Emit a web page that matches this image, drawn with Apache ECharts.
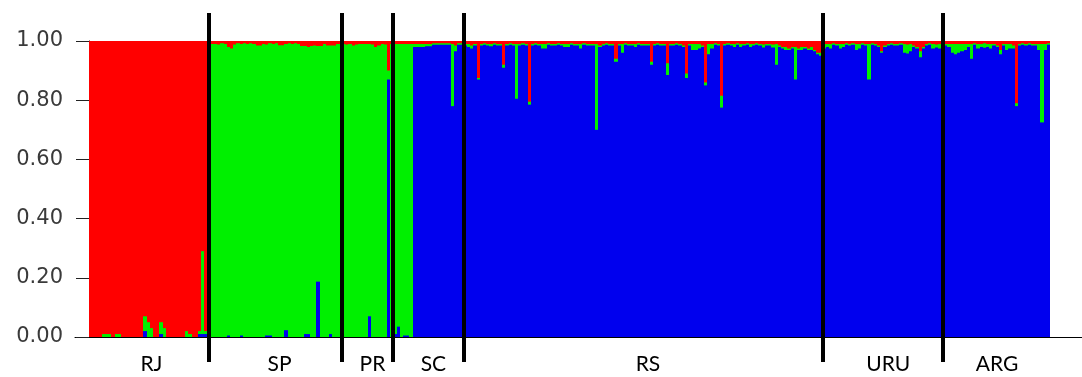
<!DOCTYPE html>
<html>
<head>
<meta charset="utf-8">
<script src="https://cdn.jsdelivr.net/npm/echarts@6/dist/echarts.min.js"></script>
<style>
html, body { margin: 0; padding: 0; background: #fff; }
#structure { width: 1082px; height: 377px; }
</style>
</head>
<body>
<div id="structure"></div>
<script>
// populations, left to right
var popNames = ['RJ', 'SP', 'PR', 'SC', 'RS', 'URU', 'ARG'];
var popSizes = [38, 41, 16, 22, 112, 38, 33];
// individual that carries each population tick/label
var popTickIndex = [19, 59, 88, 107, 174, 249, 283];
// hand drawn separator lines, in individuals from the left edge
var separators = [37.5, 79, 94.9, 117.1, 229.2, 266.6];

// membership in cluster 1 (red) and cluster 2 (green), one value per individual
var rjRed = [1, 1, 1, 1, .99, .99, .99, 1, .99, .99, 1, 1, 1, 1, 1, 1, 1, .93, .95, .97,
  1, 1, .95, .97, 1, 1, 1, 1, 1, 1, .98, .99, 1, 1, .98, .71, .98, 1];
var rjGreen = [0, 0, 0, 0, .01, .01, .01, 0, .01, .01, 0, 0, 0, 0, 0, 0, 0, .05, .05, .03,
  0, 0, .04, .03, 0, 0, 0, 0, 0, 0, .02, .01, 0, 0, .01, .28, .01, 0];

var spRed = [.01, .01, .012, .008, .01, .02, .025, .012, .008, .01, .008, .01, .008, .01, .015, .015, .01, .012, .008, .01,
  .008, .014, .014, .01, .008, .01, .008, .01, .017, .017, .02, .017, .015, .017, .017, .01, .015, .015, .015, .01, .01];
var spGreen = [.99, .99, .988, .992, .99, .975, .975, .988, .992, .985, .992, .99, .992, .99, .985, .985, .99, .983, .987, .99,
  .992, .986, .986, .967, .992, .99, .992, .99, .983, .973, .97, .983, .985, .796, .983, .99, .985, .975, .985, .99, .99];

var prRed = [.01, .012, .01, .015, .012, .01, .01, .01, .01, .012, .02, .015, .01, .012, .1, .01];
var prGreen = [.99, .988, .99, .985, .988, .99, .99, .99, .92, .988, .98, .985, .99, .988, .03, .99];

var scRed = [.01, .01, .01, .01, .01, .01, .01, .01, .01, .01, .01, .01, .008, .008, .008, .008, .008, .008, .01, .015, .008, .008];
var scGreen = [.98, .955, .99, .985, .985, .99, .01, .01, .01, .01, .008, .008, .005, .005, .005, .005, .005, .005, .21, .02, .005, .005];

var rsRed = [.01, .01, .015, .01, .125, .01, .008, .01, .01, .008,
  .01, .01, .08, .01, .008, .01, .01, .01, .008, .01,
  .205, .01, .008, .01, .01, .01, .008, .01, .01, .008,
  .01, .01, .01, .008, .01, .01, .01, .008, .01, .01,
  .01, .01, .015, .01, .008, .01, .01, .06, .01, .01,
  .008, .01, .01, .01, .008, .01, .01, .01, .07, .01,
  .008, .01, .01, .075, .01, .01, .008, .01, .015, .11,
  .01, .01, .01, .01, .015, .14, .01, .01, .008, .01,
  .185, .01, .008, .01, .01, .008, .01, .01, .008, .01,
  .01, .008, .01, .012, .01, .01, .012, .01, .015, .02,
  .02, .025, .02, .02, .025, .02, .02, .025, .02, .03,
  .04, .04];
var rsGreen = [.005, .01, .01, .005, .005, .005, .005, .005, .008, .005,
  .005, .005, .01, .005, .005, .005, .185, .005, .005, .005,
  .01, .005, .005, .005, .015, .015, .005, .005, .005, .005,
  .005, .01, .01, .005, .005, .005, .015, .005, .005, .005,
  .005, .29, .005, .005, .005, .005, .005, .01, .005, .03,
  .005, .005, .005, .01, .005, .005, .005, .005, .01, .005,
  .005, .005, .005, .04, .005, .005, .005, .005, .005, .015,
  .005, .02, .02, .015, .005, .01, .035, .015, .005, .005,
  .04, .005, .005, .005, .01, .005, .01, .005, .005, .01,
  .005, .005, .005, .01, .005, .005, .01, .07, .005, .005,
  .01, .005, .005, .11, .005, .01, .005, .005, .01, .005,
  .005, .01];

var uruRed = [.01, .01, .01, .008, .01, .01, .01, .008, .01, .008,
  .01, .01, .008, .01, .01, .008, .01, .015, .035, .015,
  .01, .008, .01, .01, .008, .01, .012, .01, .015, .02,
  .035, .02, .01, .008, .01, .012, .01, .01];
var uruGreen = [.015, .01, .015, .005, .005, .015, .01, .005, .005, .005,
  .02, .015, .005, .005, .12, .005, .005, .005, .005, .005,
  .005, .005, .005, .005, .005, .03, .03, .025, .005, .005,
  .02, .005, .005, .005, .015, .01, .015, .005];

var argRed = [.01, .01, .01, .01, .01, .01, .01, .01, .01, .008,
  .01, .01, .008, .01, .01, .01, .015, .03, .01, .01,
  .01, .015, .21, .01, .008, .01, .008, .01, .01, .01,
  .01, .01, .008];
var argGreen = [.005, .01, .03, .035, .03, .025, .02, .01, .05, .005,
  .015, .01, .015, .01, .015, .005, .005, .015, .005, .02,
  .015, .01, .01, .005, .005, .005, .005, .005, .005, .02,
  .265, .02, .005];

var red = [].concat(rjRed, spRed, prRed, scRed, rsRed, uruRed, argRed);
var green = [].concat(rjGreen, spGreen, prGreen, scGreen, rsGreen, uruGreen, argGreen);
// memberships sum to 1, cluster 3 (blue) is the rest
var blue = red.map(function (r, i) { return +(1 - r - green[i]).toFixed(3); });
var individuals = red.map(function (r, i) { return String(i + 1); });

// stack tops: blue at the bottom, green on it, red on top
var blueTop = blue.map(function (b, i) { return [i, b]; });
var greenTop = blue.map(function (b, i) { return [i, b + green[i]]; });
var redTop = blue.map(function (b, i) { return [i, b + green[i] + red[i]]; });

function isPopTick(index) {
  return popTickIndex.indexOf(index) >= 0;
}

// each column is drawn from 0 up to its stack top, later layers paint over;
// x edges are rounded so neighbouring columns meet without hairline seams
function layer(name, data, color) {
  return {
    name: name,
    type: 'custom',
    data: data,
    encode: { x: 0, y: 1 },
    silent: true,
    renderItem: function (params, api) {
      var i = api.value(0);
      var half = api.size([1, 0])[0] / 2;
      var top = api.coord([i, api.value(1)]);
      var base = api.coord([i, 0]);
      var x0 = Math.round(top[0] - half);
      var x1 = Math.round(top[0] + half);
      return {
        type: 'rect',
        shape: { x: x0, y: top[1], width: x1 - x0, height: base[1] - top[1] },
        style: { fill: color }
      };
    }
  };
}

var chart = echarts.init(document.getElementById('structure'));

var option = {
  animation: false,
  grid: [
    { left: 89, right: 32, top: 41, bottom: 40 },
    { left: 89, right: 32, top: 13, bottom: 15 },
    { left: 75, right: 0, top: 41, bottom: 40 }
  ],
  xAxis: [
    {
      type: 'category',
      gridIndex: 0,
      data: individuals,
      axisLine: { lineStyle: { color: '#000', width: 1 } },
      axisTick: { alignWithLabel: true, length: 13, interval: isPopTick, lineStyle: { color: '#222' } },
      axisLabel: {
        interval: isPopTick,
        formatter: function (v) { return popNames[popTickIndex.indexOf(Number(v) - 1)]; },
        margin: 17,
        fontFamily: 'Lato',
        fontSize: 21,
        color: '#000'
      }
    },
    { type: 'value', gridIndex: 1, min: 0, max: popSizes.reduce(function (a, b) { return a + b; }, 0), show: false },
    {
      type: 'value', gridIndex: 2, min: 0, max: 1,
      axisLine: { show: true, lineStyle: { color: '#000' } },
      axisTick: { show: false }, axisLabel: { show: false }, splitLine: { show: false }
    }
  ],
  yAxis: [
    {
      type: 'value',
      gridIndex: 0,
      min: 0,
      max: 1,
      interval: 0.2,
      axisLine: { show: true, lineStyle: { color: '#000' } },
      axisTick: { show: true, length: 13, lineStyle: { color: '#222' } },
      splitLine: { show: false },
      axisLabel: {
        formatter: function (v) { return v.toFixed(2); },
        margin: 26,
        fontFamily: 'DejaVu Sans',
        fontSize: 21,
        color: '#3a3a3a'
      }
    },
    { type: 'value', gridIndex: 1, min: 0, max: 1, show: false },
    { type: 'value', gridIndex: 2, min: 0, max: 1, show: false }
  ],
  series: [
    layer('cluster 1', redTop, '#ff0000'),
    layer('cluster 2', greenTop, '#00f000'),
    layer('cluster 3', blueTop, '#0000ee'),
    {
      type: 'line',
      xAxisIndex: 1,
      yAxisIndex: 1,
      data: [],
      markLine: {
        silent: true,
        symbol: 'none',
        label: { show: false },
        lineStyle: { color: '#000', width: 4, type: 'solid' },
        data: separators.map(function (v) { return { xAxis: v }; })
      }
    }
  ]
};

chart.setOption(option);
</script>
</body>
</html>
